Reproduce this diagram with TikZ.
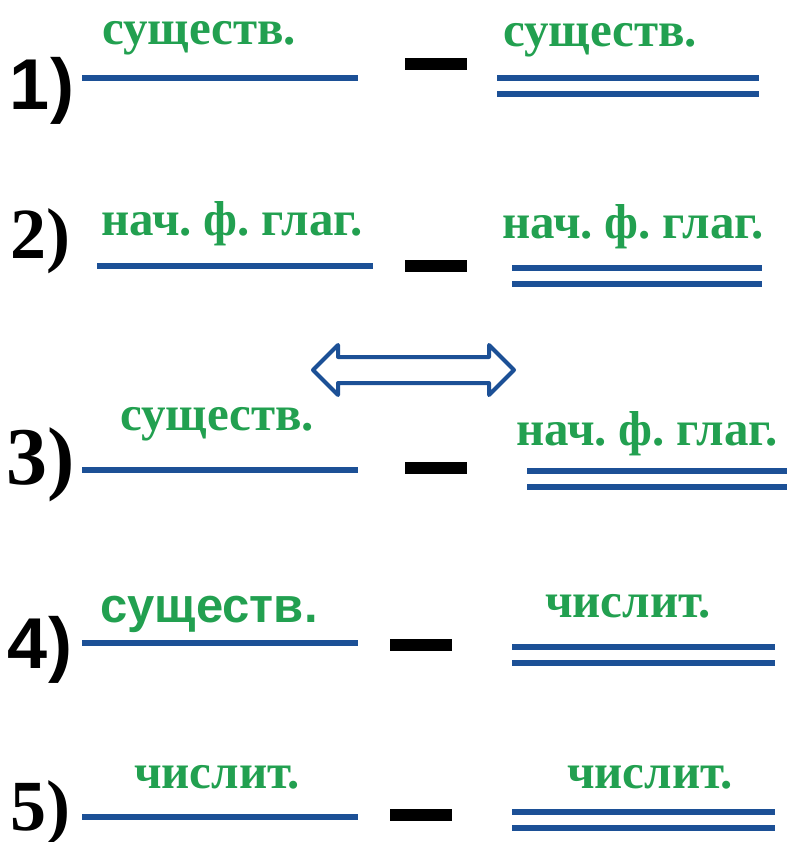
\documentclass[tikz,border=0pt]{standalone}
\usepackage{fontspec}
\setmainfont{Liberation Serif}
\setsansfont{Liberation Sans}
\definecolor{labelgreen}{RGB}{34,160,80}
\definecolor{lineblue}{RGB}{28,80,150}
\newcommand{\gsp}{\hspace{0.24em}}

\begin{document}
\begin{tikzpicture}[x=1pt, y=-1pt,
    num/.style={font=\fontsize{72}{72}\selectfont\bfseries, inner sep=0pt, anchor=base},
    lbl/.style={font=\fontsize{49}{49}\selectfont\bfseries, text=labelgreen, inner sep=0pt, anchor=base},
    subj/.style={lineblue, line width=6pt},
    dashbar/.style={black, line width=12pt}]
    \useasboundingbox (0,0) rectangle (802,842);

    % Row numbers
    \node[num] (n1) at (42,110)  {\sffamily 1)};
    \node[num] (n2) at (40,258)  {2)};
    \node[num, font=\fontsize{82}{82}\selectfont\bfseries] (n3) at (41,484) {3)};
    \node[num] (n4) at (40,668)  {\sffamily 4)};
    \node[num] (n5) at (40,830)  {5)};

    % Left parts: single line with label
    \foreach \y/\a/\b in {78/82/358, 266/97/373, 470/82/358, 643/82/358, 817/82/358}
        \draw[subj] (\a,\y) -- (\b,\y);
    \node[lbl] (l1) at (199,45)  {существ.};
    \node[lbl] (l2) at (232,236) {нач.\gsp ф.\gsp глаг.};
    \node[lbl] (l3) at (217,430) {существ.};
    \node[lbl] (l4) at (209,622) {\sffamily существ.};
    \node[lbl] (l5) at (217,788) {числит.};

    % Dashes between the parts
    \foreach \y/\a/\b in {64/405/467, 266/405/467, 468/405/467, 645/390/452, 815/390/452}
        \draw[dashbar] (\a,\y) -- (\b,\y);

    % Right parts: double line with label
    \foreach \y/\a/\b in {78/497/759, 268/512/762, 471/527/787, 647/512/775, 812/512/775} {
        \draw[subj] (\a,\y) -- (\b,\y);
        \draw[subj] (\a,\y+16) -- (\b,\y+16);
    }
    \node[lbl] (r1) at (600,47)  {существ.};
    \node[lbl] (r2) at (633,238) {нач.\gsp ф.\gsp глаг.};
    \node[lbl] (r3) at (647,445) {нач.\gsp ф.\gsp глаг.};
    \node[lbl] (r4) at (628,617) {числит.};
    \node[lbl] (r5) at (650,788) {числит.};

    % Hollow double arrow
    \draw[lineblue, line width=4pt, line join=round]
        (313,370) -- (338,345) -- (338,357) -- (489,357) -- (489,345) -- (514,370)
        -- (489,395) -- (489,383) -- (338,383) -- (338,395) -- cycle;
\end{tikzpicture}
\end{document}
